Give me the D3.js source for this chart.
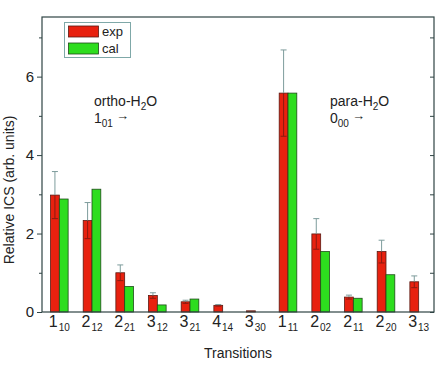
<!DOCTYPE html>
<html>
<head>
<meta charset="utf-8">
<script src="https://cdn.jsdelivr.net/npm/d3@7"></script>
<style>
  body { margin: 0; background: #fff; }
  text { font-family: "Liberation Sans", Arial, sans-serif; fill: #222; }
</style>
</head>
<body>
<div id="chart"></div>
<script>
// transitions: main level + subscript
const levels = ["1", "2", "2", "3", "3", "4", "3", "1", "2", "2", "2", "3"];
const subs = ["10", "12", "21", "12", "21", "14", "30", "11", "02", "11", "20", "13"];
// measured (exp) and calculated (cal) relative ICS
const expValues = [2.98, 2.33, 1.0, 0.42, 0.26, 0.17, 0.03, 5.58, 1.99, 0.38, 1.54, 0.77];
const expErrors = [0.6, 0.46, 0.2, 0.07, 0.04, 0.02, 0, 1.1, 0.39, 0.05, 0.29, 0.15];
const calValues = [2.88, 3.13, 0.65, 0.18, 0.33, null, null, 5.58, 1.54, 0.35, 0.95, null];
const yTicks = [0, 2, 4, 6];
const yMinor = [1, 3, 5, 7];

const W = 436, H = 374;
const margin = { top: 17, right: 2, bottom: 62, left: 42 };

const svg = d3.select("#chart").append("svg")
  .attr("width", W).attr("height", H);

const keys = levels.map((d, i) => i);

const x = d3.scaleBand()
  .domain(keys)
  .range([margin.left + 1, W - margin.right + 1]);

const y = d3.scaleLinear()
  .domain([0, 7.52])
  .range([H - margin.bottom, margin.top]);

const barW = 8.8;
const red = "#e8210f", green = "#2ddd1e";

// bars
const g = svg.append("g");
keys.forEach(i => {
  const cx = x(i) + x.bandwidth() / 2;
  g.append("rect")
    .attr("x", cx - barW).attr("width", barW)
    .attr("y", y(expValues[i])).attr("height", y(0) - y(expValues[i]))
    .attr("fill", red).attr("stroke", "#5a1a12").attr("stroke-width", 0.8);
  if (calValues[i] != null) {
    g.append("rect")
      .attr("x", cx).attr("width", barW)
      .attr("y", y(calValues[i])).attr("height", y(0) - y(calValues[i]))
      .attr("fill", green).attr("stroke", "#1f4a1a").attr("stroke-width", 0.8);
  }
  // error bar on exp
  const ex = cx - barW / 2;
  const e = expErrors[i];
  if (e > 0) {
    g.append("line")
      .attr("x1", ex).attr("x2", ex)
      .attr("y1", y(expValues[i])).attr("y2", y(expValues[i] + e))
      .attr("stroke", "#7d9c9c").attr("stroke-width", 1);
    g.append("line")
      .attr("x1", ex - 3).attr("x2", ex + 3)
      .attr("y1", y(expValues[i] + e)).attr("y2", y(expValues[i] + e))
      .attr("stroke", "#7d9c9c").attr("stroke-width", 1);
    g.append("line")
      .attr("x1", ex).attr("x2", ex)
      .attr("y1", y(expValues[i])).attr("y2", y(expValues[i] - e))
      .attr("stroke", "#8c1a10").attr("stroke-width", 1);
    g.append("line")
      .attr("x1", ex - 3).attr("x2", ex + 3)
      .attr("y1", y(expValues[i] - e)).attr("y2", y(expValues[i] - e))
      .attr("stroke", "#8c1a10").attr("stroke-width", 1);
  }
});

// frame
const frameColor = "#2f4444";
svg.append("rect")
  .attr("x", margin.left).attr("y", margin.top)
  .attr("width", W - margin.right - margin.left)
  .attr("height", H - margin.bottom - margin.top)
  .attr("fill", "none").attr("stroke", frameColor).attr("stroke-width", 1.2);

// left axis
const yAxis = svg.append("g")
  .attr("transform", `translate(${margin.left},0)`)
  .call(d3.axisLeft(y).tickValues(yTicks).tickSize(5).tickPadding(3).tickFormat(d3.format("d")));
yAxis.select(".domain").remove();
yAxis.selectAll("line").attr("stroke", frameColor);
yAxis.selectAll("text").attr("font-size", 15).attr("fill", "#222")
  .attr("font-family", "Liberation Sans, Arial, sans-serif");
const yMinorAxis = svg.append("g")
  .attr("transform", `translate(${margin.left},0)`)
  .call(d3.axisLeft(y).tickValues(yMinor).tickSize(3).tickFormat(""));
yMinorAxis.select(".domain").remove();
yMinorAxis.selectAll("line").attr("stroke", frameColor);

// right axis (ticks inward)
const rAxis = svg.append("g")
  .attr("transform", `translate(${W - margin.right},0)`)
  .call(d3.axisLeft(y).tickValues(yTicks.concat(yMinor)).tickSize(-4).tickFormat(""));
rAxis.select(".domain").remove();
rAxis.selectAll("line").attr("stroke", frameColor).attr("x2", -4);

// x tick labels with subscripts
const xl = svg.append("g");
keys.forEach(i => {
  const cx = x(i) + x.bandwidth() / 2;
  const t = xl.append("text")
    .attr("x", cx).attr("y", 327)
    .attr("text-anchor", "middle")
    .attr("font-size", 16);
  t.append("tspan").text(levels[i]);
  t.append("tspan").attr("font-size", 10).attr("dy", 4).attr("dx", 1).text(subs[i]);
});

// axis titles
svg.append("text")
  .attr("x", 238).attr("y", 358)
  .attr("text-anchor", "middle").attr("font-size", 14)
  .text("Transitions");
svg.append("text")
  .attr("transform", "translate(14,190) rotate(-90)")
  .attr("text-anchor", "middle").attr("font-size", 14)
  .text("Relative ICS (arb. units)");

// legend
const lg = svg.append("g");
lg.append("rect").attr("x", 64.5).attr("y", 22.5).attr("width", 66).attr("height", 35)
  .attr("fill", "#fff").attr("stroke", "#7fa8a8").attr("stroke-width", 1);
const legendItems = [["exp", red, "#5a1a12"], ["cal", green, "#1f4a1a"]];
legendItems.forEach((d, i) => {
  lg.append("rect").attr("x", 68.5).attr("y", 26 + i * 17).attr("width", 30).attr("height", 11)
    .attr("fill", d[1]).attr("stroke", d[2]).attr("stroke-width", 0.8);
  lg.append("text").attr("x", 102).attr("y", 36 + i * 17).attr("font-size", 13).text(d[0]);
});

// annotations
function label(xp, name, lev, sub) {
  const a = svg.append("text").attr("x", xp).attr("y", 106).attr("font-size", 14);
  a.append("tspan").text(name + "-H");
  a.append("tspan").attr("font-size", 10).attr("dy", 4).text("2");
  a.append("tspan").attr("dy", -4).text("O");
  const b = svg.append("text").attr("x", xp).attr("y", 123).attr("font-size", 14);
  b.append("tspan").text(lev);
  b.append("tspan").attr("font-size", 10).attr("dy", 4).text(sub);
  b.append("tspan").attr("font-size", 13).attr("dy", -7).attr("dx", 3).text("→");
}
label(94, "ortho", "1", "01");
label(330, "para", "0", "00");
</script>
</body>
</html>
